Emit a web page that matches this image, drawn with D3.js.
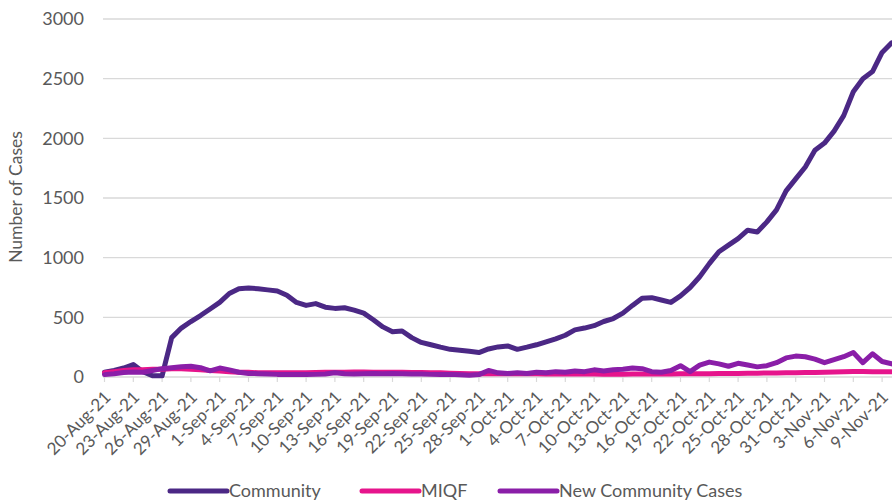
<!DOCTYPE html>
<html>
<head>
<meta charset="utf-8">
<script src="https://cdn.jsdelivr.net/npm/d3@7"></script>
<style>
  body { margin: 0; background: #fff; }
  text { font-family: Lato, "Open Sans", sans-serif; fill: #595959; }
</style>
</head>
<body>
<div id="chart"></div>
<script>
// daily values, 20-Aug-21 .. 10-Nov-21
let startDate = new Date(2021, 7, 20);
let endDate = new Date(2021, 10, 11);
let dates = d3.timeDay.range(startDate, endDate);

let community = [
    40, 55, 75, 105, 45, 10, 10, 330, 410, 465,
    515, 570, 625, 700, 740, 745, 740, 730, 720, 685,
    625, 600, 615, 585, 575, 580, 560, 535, 480, 420,
    380, 385, 330, 290, 270, 250, 232, 225, 215, 205,
    235, 252, 260, 232, 250, 270, 295, 320, 350, 395,
    410, 430, 465, 490, 535, 600, 660, 665, 645, 625,
    680, 750, 840, 950, 1050, 1105, 1160, 1230, 1215, 1300,
    1400, 1560, 1660, 1760, 1900, 1960, 2060, 2190, 2390, 2500,
    2560, 2720, 2800
];

let miqf = [
    35, 45, 55, 60, 60, 65, 65, 70, 70, 65,
    60, 55, 50, 45, 40, 40, 35, 35, 35, 35,
    35, 35, 38, 40, 40, 40, 42, 42, 40, 40,
    40, 40, 38, 38, 35, 35, 32, 30, 28, 28,
    28, 28, 28, 27, 27, 27, 26, 26, 26, 25,
    25, 25, 24, 24, 24, 25, 25, 25, 26, 26,
    27, 27, 28, 28, 29, 30, 30, 31, 32, 33,
    34, 35, 36, 37, 38, 40, 42, 44, 46, 46,
    45, 44, 43
];

let newCommunity = [
    20, 28, 38, 42, 40, 55, 70, 78, 85, 90,
    78, 52, 75, 60, 40, 30, 28, 25, 22, 22,
    20, 20, 22, 25, 35, 28, 25, 28, 30, 28,
    30, 28, 25, 25, 22, 20, 22, 18, 15, 20,
    55, 35, 30, 35, 30, 40, 35, 45, 40, 50,
    45, 60, 50, 60, 65, 75, 70, 45, 40, 55,
    95, 45, 100, 125, 110, 90, 115, 100, 85, 95,
    120, 160, 175, 170, 150, 120, 145, 170, 205, 120,
    195, 130, 110
];

let seriesNames = ["Community", "MIQF", "New Community Cases"];
let seriesColors = ["#4b2885", "#e6148c", "#8a1ea8"];
let yTicks = [0, 500, 1000, 1500, 2000, 2500, 3000];

let width = 892, height = 502;

let svg = d3.select("#chart")
    .append("svg")
    .attr("width", width)
    .attr("height", height);

let x = d3.scaleTime()
    .domain([dates[0], dates[dates.length - 1]])
    .range([104.5, 104.5 + 9.6 * (dates.length - 1)]);

let y = d3.scaleLinear()
    .domain([0, 3000])
    .range([377, 19]);

// gridlines
svg.append("g")
    .selectAll("line")
    .data(yTicks)
    .enter()
    .append("line")
    .attr("x1", 103)
    .attr("x2", width)
    .attr("y1", d => y(d))
    .attr("y2", d => y(d))
    .attr("stroke", "#d9d9d9")
    .attr("stroke-width", 1.4);

// y tick labels
svg.append("g")
    .selectAll("text")
    .data(yTicks)
    .enter()
    .append("text")
    .attr("x", 84)
    .attr("y", d => y(d))
    .attr("dy", "0.36em")
    .style("text-anchor", "end")
    .style("font-size", "18px")
    .text(d => d);

svg.append("text")
    .attr("transform", "translate(22, 197) rotate(-90)")
    .style("text-anchor", "middle")
    .style("font-size", "17.5px")
    .text("Number of Cases");

// x axis ticks + labels
let tickDates = dates.filter((d, i) => i % 3 === 0);
let fmt = d3.timeFormat("%-d-%b-%y");

let xAxis = svg.append("g");
xAxis.selectAll("line")
    .data(tickDates)
    .enter()
    .append("line")
    .attr("x1", d => x(d))
    .attr("x2", d => x(d))
    .attr("y1", y(0))
    .attr("y2", y(0) + 5)
    .attr("stroke", "#d9d9d9")
    .attr("stroke-width", 1.2);

xAxis.selectAll("text")
    .data(tickDates)
    .enter()
    .append("text")
    .attr("transform", d => `translate(${x(d) + 3}, 394) rotate(-45)`)
    .attr("dy", "0.35em")
    .style("text-anchor", "end")
    .style("font-size", "17px")
    .text(d => fmt(d));

// lines
let allSeries = [community, miqf, newCommunity];
let line = d3.line()
    .x((d, i) => x(dates[i]))
    .y(d => y(d));

svg.append("g")
    .selectAll("path")
    .data(allSeries)
    .enter()
    .append("path")
    .attr("d", d => line(d))
    .attr("fill", "none")
    .attr("stroke", (d, i) => seriesColors[i])
    .attr("stroke-width", 5)
    .attr("stroke-linejoin", "round")
    .attr("stroke-linecap", "round");

// legend
let legendX = [170, 362, 500];
let legend = svg.append("g")
    .selectAll("g")
    .data(seriesNames)
    .enter()
    .append("g")
    .attr("transform", (d, i) => `translate(${legendX[i]}, 491)`);

legend.append("line")
    .attr("x1", 0)
    .attr("x2", 57)
    .attr("stroke", (d, i) => seriesColors[i])
    .attr("stroke-width", 5)
    .attr("stroke-linecap", "round");

legend.append("text")
    .attr("x", 59)
    .attr("dy", "0.35em")
    .style("font-size", "18px")
    .text(d => d);
</script>
</body>
</html>
